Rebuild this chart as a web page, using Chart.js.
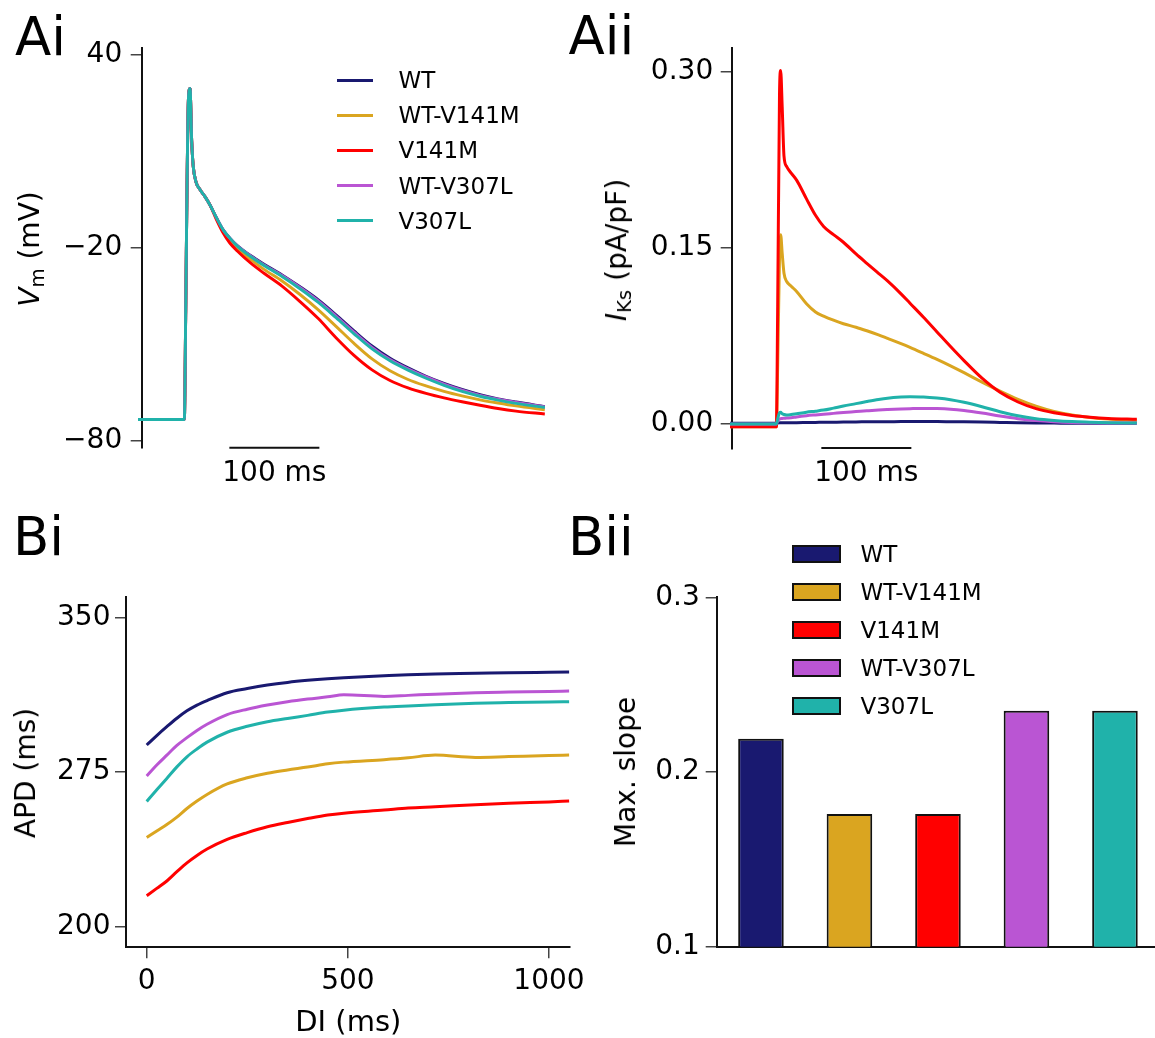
<!DOCTYPE html>
<html><head><meta charset="utf-8">
<script src="https://cdn.jsdelivr.net/npm/chart.js@4.4.1/dist/chart.umd.min.js"></script>
<style>
html,body{margin:0;padding:0;background:#fff;overflow:hidden;width:1155px;height:1038px;}
#wrap{position:relative;width:1155px;height:1038px;overflow:hidden;font-family:"DejaVu Sans";color:#000;}
canvas{position:absolute;left:0;top:0;}
.t{position:absolute;white-space:nowrap;line-height:1;font-family:"DejaVu Sans";}
.rot{transform:translate(-50%,-50%) rotate(-90deg);}
.ctr{transform:translateX(-50%);}
sub{font-size:0.7em;vertical-align:-0.24em;line-height:0;}
.lg{position:absolute;}
</style></head><body><div id="wrap">
<canvas id="cAi" width="1155" height="1038"></canvas>
<canvas id="cAii" width="1155" height="1038"></canvas>
<canvas id="cBi" width="1155" height="1038"></canvas>
<canvas id="cBii" width="1175" height="1038"></canvas>

<div class="t" style="left:15px;top:9.5px;font-size:53px;">Ai</div>
<div class="t" style="left:568.5px;top:8.5px;font-size:53px;">Aii</div>
<div class="t" style="left:13px;top:510px;font-size:53px;">Bi</div>
<div class="t" style="left:568px;top:510px;font-size:53px;">Bii</div>

<div class="t rot" style="left:30px;top:249px;font-size:28px;"><i>V</i><sub>m</sub> (mV)</div>
<div class="t rot" style="left:617px;top:250px;font-size:28px;"><i>I</i><sub>Ks</sub> (pA/pF)</div>
<div class="t rot" style="left:26px;top:772.5px;font-size:28px;">APD (ms)</div>
<div class="t rot" style="left:626px;top:771.7px;font-size:28px;">Max. slope</div>
<div class="t ctr" style="left:348.3px;top:1007px;font-size:29px;">DI (ms)</div>

<div id="sbAi" class="t ctr" style="left:274px;top:458px;font-size:28px;">100 ms</div>
<div id="sbAii" class="t ctr" style="left:866px;top:458px;font-size:28px;">100 ms</div>
<div id="legAi"></div>
<div id="legBii"></div>
</div>
<script>
// ---------- data ----------
const SERIES = ['WT', 'WT-V141M', 'V141M', 'WT-V307L', 'V307L'];
const COLORS = ['#191970', '#DAA520', '#FF0000', '#BA55D3', '#20B2AA'];

// Ai: action potentials (time in ms, Vm in mV)
const T_AP = [0, 51.5, 53, 54.5, 56, 57.8, 59.6, 61.4, 64.4, 69, 74.4, 80, 87.4, 94.8, 102,
  110, 125, 140, 160, 180, 200, 220, 240, 260, 280, 300, 320, 340, 360, 380, 400, 420, 452];
const AP_WT = [-73.4, -73.4, -40, 0, 26, 29.4, 13.4, 5.1, 0.4, -2.1, -4.2, -6.8, -10.9, -14.6, -17.1,
  -19.3, -22.5, -25.2, -28.5, -32.2, -36.2, -40.9, -45.9, -50.6, -54.4, -57.4, -60.0, -62.2, -64.1, -65.7, -67.0, -68.0, -69.4];
const AP_WTV141M = [-73.4, -73.4, -40, 0, 26, 29.4, 13.4, 5.1, 0.4, -2.1, -4.2, -6.8, -11.1, -15.0, -17.7,
  -20.2, -23.7, -26.8, -30.4, -34.6, -39.3, -44.5, -49.8, -54.6, -58.3, -61.0, -63.0, -64.7, -66.1, -67.3, -68.3, -69.2, -70.4];
const AP_V141M = [-73.4, -73.4, -40, 0, 26, 29.4, 13.4, 5.1, 0.4, -2.1, -4.2, -6.8, -11.5, -15.6, -18.6,
  -21.0, -24.8, -28.0, -32.0, -36.8, -42.0, -48.0, -53.5, -58.0, -61.3, -63.6, -65.3, -66.7, -67.9, -69.0, -70.0, -70.8, -71.7];
const AP_WTV307L = [-73.4, -73.4, -40, 0, 26, 29.4, 13.4, 5.1, 0.4, -2.1, -4.2, -6.8, -10.9, -14.6, -17.1,
  -19.4, -22.6, -25.4, -28.7, -32.4, -36.5, -41.3, -46.3, -51.0, -54.8, -57.7, -60.2, -62.4, -64.3, -65.9, -67.1, -68.1, -69.5];
const AP_V307L = [-73.4, -73.4, -40, 0, 26, 29.4, 13.4, 5.1, 0.4, -2.1, -4.2, -6.8, -10.9, -14.6, -17.1,
  -19.5, -22.8, -25.6, -29.0, -32.8, -37.0, -41.8, -46.8, -51.5, -55.2, -58.1, -60.6, -62.8, -64.7, -66.2, -67.4, -68.4, -69.7];
const VM_TICKS = [40, -20, -80];

// Aii: IKs current (time in ms, pA/pF)
const T_IKS = [0, 51.5, 53, 55, 56.3, 58, 60, 63, 68, 74, 85, 95, 104, 115, 126, 140, 152, 165, 175, 190,
  200, 215, 230, 245, 260, 280, 300, 320, 340, 360, 380, 400, 420, 452];
const IKS_WT = [0, 0, 0.0002, 0.0004, 0.0005, 0.0005, 0.0005, 0.0005, 0.0005, 0.0006, 0.0007, 0.0008, 0.0009, 0.001, 0.0011, 0.0012, 0.0013, 0.0014, 0.0014, 0.0015,
  0.0015, 0.0015, 0.0015, 0.0014, 0.0013, 0.0011, 0.0008, 0.0005, 0.0003, 0.0002, 0.0001, 0.0001, 0, 0];
const IKS_WTV141M = [-0.003, -0.003, 0.05, 0.14, 0.161, 0.145, 0.128, 0.121, 0.117, 0.1125, 0.102, 0.095, 0.0915, 0.088, 0.085, 0.082, 0.079, 0.0755, 0.0725, 0.068,
  0.0648, 0.0597, 0.0545, 0.049, 0.0432, 0.0352, 0.0275, 0.0205, 0.0147, 0.0102, 0.0071, 0.005, 0.0036, 0.0024];
const IKS_V141M = [-0.003, -0.003, 0.10, 0.28, 0.301, 0.27, 0.228, 0.219, 0.2135, 0.2075, 0.1915, 0.1775, 0.168, 0.161, 0.1545, 0.1445, 0.1365, 0.128, 0.1215, 0.1105,
  0.1025, 0.0905, 0.078, 0.0655, 0.0535, 0.0385, 0.0265, 0.0182, 0.0125, 0.009, 0.0067, 0.0052, 0.0042, 0.0034];
const IKS_WTV307L = [-0.0005, -0.0005, 0.002, 0.0038, 0.004, 0.0042, 0.0043, 0.0045, 0.0048, 0.0055, 0.0065, 0.0072, 0.0078, 0.0085, 0.0092, 0.01, 0.0107, 0.0114, 0.0118, 0.0123,
  0.0125, 0.0127, 0.0126, 0.0121, 0.011, 0.0088, 0.0062, 0.004, 0.0024, 0.0014, 0.0008, 0.0005, 0.0003, 0.0002];
const IKS_V307L = [-0.0005, -0.0005, 0.004, 0.009, 0.0094, 0.0082, 0.0075, 0.0071, 0.0075, 0.0082, 0.0095, 0.0104, 0.0113, 0.013, 0.0148, 0.0168, 0.0186, 0.0204, 0.0215, 0.0224,
  0.0227, 0.0225, 0.0216, 0.0202, 0.018, 0.0142, 0.0099, 0.0064, 0.004, 0.0025, 0.0015, 0.001, 0.0006, 0.0003];
const IKS_TICKS = [0.30, 0.15, 0.00];
const SCALEBAR_MS = [101.5, 201.5];

// Bi: APD restitution (DI in ms, APD in ms)
const DI = [0, 25, 50, 75, 100, 125, 150, 200, 250, 300, 350, 400, 450, 490, 590, 650, 717, 817, 900, 1000, 1050];
const APD_WT = [288.2, 292.8, 297.1, 301.2, 304.8, 307.6, 309.8, 313.6, 315.6, 317.3, 318.6, 319.6, 320.4, 320.9, 321.8, 322.3, 322.7, 323.0, 323.3, 323.5, 323.6];
const APD_WTV141M = [243.3, 246.5, 249.6, 253.2, 257.4, 261.0, 264.2, 269.3, 272.3, 274.5, 276.1, 277.5, 279.1, 279.9, 281.1, 282.0, 283.3, 282.2, 282.6, 283.1, 283.3];
const APD_V141M = [215.0, 218.6, 222.2, 226.7, 231.0, 234.6, 237.7, 242.4, 245.7, 248.5, 250.6, 252.5, 254.2, 255.1, 256.6, 257.6, 258.2, 259.2, 259.9, 260.6, 261.0];
const APD_WTV307L = [273.2, 278.5, 283.3, 288.0, 291.8, 295.3, 298.3, 303.0, 305.6, 307.6, 309.2, 310.5, 311.6, 312.6, 311.8, 312.3, 312.9, 313.6, 313.9, 314.2, 314.4];
const APD_V307L = [260.8, 266.5, 272.0, 277.6, 282.5, 286.3, 289.6, 294.4, 297.3, 299.5, 301.1, 302.6, 304.2, 305.1, 306.6, 307.2, 307.8, 308.5, 308.8, 309.1, 309.2];
const APD_TICKS = [200, 275, 350];
const DI_TICKS = [0, 500, 1000];

// Bii: maximum restitution slope
const MAX_SLOPE = [0.219, 0.176, 0.176, 0.235, 0.235];
const SLOPE_TICKS = [0.1, 0.2, 0.3];

// ---------- helpers ----------
Chart.defaults.font.family = "'DejaVu Sans'";
Chart.defaults.color = '#000';
const FONT = {size: 28, family: "'DejaVu Sans'"};
const YW = 120;

function yAxis(min, max, ticks, fmt, pad) {
  return {
    type: 'linear', position: 'left', min: min, max: max,
    afterBuildTicks: s => { s.ticks = ticks.map(v => ({value: v})); },
    afterFit: s => { s.width = YW; },
    ticks: {callback: fmt, font: FONT, color: '#000', padding: pad, autoSkip: false, maxRotation: 0},
    grid: {display: true, drawOnChartArea: false, drawTicks: true, tickLength: 11, color: '#444', lineWidth: 1.5},
    border: {display: true, color: '#111', width: 2}
  };
}
function lineSets(xs, arrs, w) {
  return arrs.map((arr, i) => ({
    label: SERIES[i],
    data: xs.map((x, j) => ({x: x, y: arr[j]})),
    borderColor: COLORS[i], backgroundColor: COLORS[i],
    borderWidth: w, pointRadius: 0, fill: false,
    cubicInterpolationMode: 'monotone', clip: false,
    order: arrs.length - 1 - i
  }));
}
const scaleBar = {
  id: 'scaleBar',
  afterDraw(chart, args, opts) {
    if (!opts || !opts.range) return;
    const xs = chart.scales.x, ctx = chart.ctx;
    const x1 = xs.getPixelForValue(opts.range[0]), x2 = xs.getPixelForValue(opts.range[1]);
    const y = chart.chartArea.bottom - 0.3;
    ctx.save();
    ctx.strokeStyle = '#111'; ctx.lineWidth = 2;
    ctx.beginPath(); ctx.moveTo(x1, y); ctx.lineTo(x2, y); ctx.stroke();
    ctx.restore();
    const el = document.getElementById(opts.label);
    if (el) el.style.left = ((x1 + x2) / 2) + 'px';
  }
};
const common = {responsive: false, animation: false, events: []};
const noPlug = {legend: {display: false}, tooltip: {enabled: false}};
const minus = v => (v < 0 ? '\u2212' + Math.abs(v) : String(v));

// ---------- Ai ----------
new Chart(document.getElementById('cAi'), {
  type: 'line',
  data: {datasets: lineSets(T_AP, [AP_WT, AP_WTV141M, AP_V141M, AP_WTV307L, AP_V307L], 2.9)},
  options: Object.assign({}, common, {
    layout: {padding: {left: 141.7 - YW, top: 47.7, right: 1155 - 545, bottom: 1038 - 448}},
    scales: {
      x: {type: 'linear', display: false, min: 4.1, max: 452.2},
      y: yAxis(-82.27, 42.05, VM_TICKS, minus, 8.5)
    },
    plugins: Object.assign({}, noPlug, {scaleBar: {range: SCALEBAR_MS, label: 'sbAi'}})
  }),
  plugins: [scaleBar]
});

// ---------- Aii ----------
new Chart(document.getElementById('cAii'), {
  type: 'line',
  data: {datasets: lineSets(T_IKS, [IKS_WT, IKS_WTV141M, IKS_V141M, IKS_WTV307L, IKS_V307L], 3)},
  options: Object.assign({}, common, {
    layout: {padding: {left: 731.7 - YW, top: 48.3, right: 1155 - 1137, bottom: 1038 - 448.3}},
    scales: {
      x: {type: 'linear', display: false, min: 1.9, max: 452.2},
      y: yAxis(-0.0213, 0.32, IKS_TICKS, v => Number(v).toFixed(2), 7.5)
    },
    plugins: Object.assign({}, noPlug, {scaleBar: {range: SCALEBAR_MS, label: 'sbAii'}})
  }),
  plugins: [scaleBar]
});

// ---------- Bi ----------
new Chart(document.getElementById('cBi'), {
  type: 'line',
  data: {datasets: lineSets(DI, [APD_WT, APD_WTV141M, APD_V141M, APD_WTV307L, APD_V307L], 3)},
  options: Object.assign({}, common, {
    layout: {padding: {left: 126 - YW, top: 596.7, right: 1155 - 570, bottom: 1038 - 946.7 - 60}},
    scales: {
      x: {
        type: 'linear', position: 'bottom', min: -51.5, max: 1052.2,
        afterBuildTicks: s => { s.ticks = DI_TICKS.map(v => ({value: v})); },
        afterFit: s => { s.height = 60; },
        ticks: {callback: v => String(v), font: FONT, color: '#000', padding: 6.5, maxRotation: 0, autoSkip: false},
        grid: {display: true, drawOnChartArea: false, tickLength: 11.5, color: '#444', lineWidth: 1.5},
        border: {display: true, color: '#111', width: 2}
      },
      y: yAxis(190.3, 360.2, APD_TICKS, v => String(v), 4.5)
    },
    plugins: noPlug
  })
});

// ---------- Bii ----------
new Chart(document.getElementById('cBii'), {
  type: 'bar',
  data: {
    labels: SERIES,
    datasets: [{
      data: MAX_SLOPE,
      backgroundColor: COLORS,
      borderColor: '#111', borderWidth: 2, borderSkipped: false,
      barPercentage: 0.515, categoryPercentage: 1.0
    }]
  },
  options: Object.assign({}, common, {
    layout: {padding: {left: 716.7 - YW, top: 597.3, right: 1175 - 1159.2, bottom: 1038 - 946.7}},
    scales: {
      x: {
        type: 'category', offset: true,
        afterFit: s => { s.height = 0; },
        ticks: {display: false},
        grid: {display: false, drawTicks: false},
        border: {display: true, color: '#111', width: 2}
      },
      y: Object.assign(yAxis(0.1, 0.3, SLOPE_TICKS, v => Number(v).toFixed(1), 6), {beginAtZero: false})
    },
    plugins: noPlug
  })
});

// ---------- legends ----------
(function () {
  const legAi = document.getElementById('legAi');
  const legBii = document.getElementById('legBii');
  SERIES.forEach((name, i) => {
    const cy = 80 + i * 35.2;
    const ln = document.createElement('div');
    ln.className = 'lg';
    ln.style.cssText = `left:337.3px;top:${cy - 1.5}px;width:36px;height:3px;background:${COLORS[i]};`;
    legAi.appendChild(ln);
    const tx = document.createElement('div');
    tx.className = 't';
    tx.style.cssText = `left:398.5px;top:${cy - 11.1}px;font-size:23px;`;
    tx.textContent = name;
    legAi.appendChild(tx);

    const by = 553.7 + i * 38;
    const bx = document.createElement('div');
    bx.className = 'lg';
    bx.style.cssText = `left:792.3px;top:${by - 8.9}px;width:48.7px;height:17.8px;box-sizing:border-box;border:2px solid #111;background:${COLORS[i]};`;
    legBii.appendChild(bx);
    const bt = document.createElement('div');
    bt.className = 't';
    bt.style.cssText = `left:860.5px;top:${by - 11.1}px;font-size:23px;`;
    bt.textContent = name;
    legBii.appendChild(bt);
  });
})();
</script>
</body></html>
